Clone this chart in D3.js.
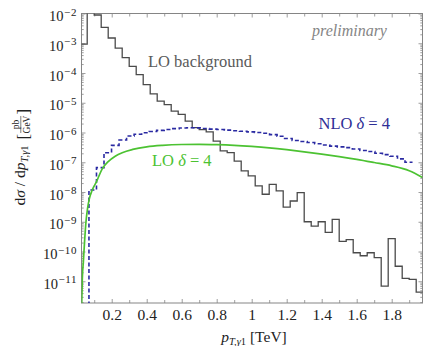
<!DOCTYPE html>
<html>
<head>
<meta charset="utf-8">
<script src="https://cdnjs.cloudflare.com/ajax/libs/d3/7.8.5/d3.min.js"></script>
<style>
  html, body { margin: 0; padding: 0; background: #fff; }
  svg { display: block; }
  svg text { font-family: "Liberation Serif", "DejaVu Serif", serif; }
</style>
</head>
<body>
<script>
// LO background histogram (bin edges in TeV, values in pb/GeV)
const bgEdges = [0.02, 0.06, 0.10, 0.14, 0.18, 0.22, 0.26, 0.30, 0.34, 0.38, 0.42, 0.46, 0.50,
  0.54, 0.58, 0.62, 0.66, 0.70, 0.74, 0.78, 0.82, 0.86, 0.90, 0.94, 0.98, 1.02, 1.06, 1.10,
  1.14, 1.18, 1.22, 1.26, 1.30, 1.34, 1.38, 1.42, 1.46, 1.50, 1.54, 1.58, 1.62, 1.66, 1.70,
  1.74, 1.78, 1.82, 1.86, 1.90, 1.94, 1.98];
const bgValues = [9.3e-4, 1.2e-2, 8.9e-3, 3.4e-3, 1.5e-3, 6.9e-4, 3.3e-4, 1.66e-4, 8.8e-5,
  4.1e-5, 2.0e-5, 1.13e-5, 8.7e-6, 5.2e-6, 4.1e-6, 2.4e-6, 1.45e-6, 1.25e-6, 1.05e-6, 5.1e-7,
  2.4e-7, 2.1e-7, 1.1e-7, 5.1e-8, 3.5e-8, 1.6e-8, 8.4e-9, 1.8e-8, 1.1e-8, 3.1e-9, 5.0e-9,
  9.5e-9, 1.0e-9, 7.1e-10, 1.0e-9, 4.4e-10, 1.2e-9, 2.2e-10, 2.5e-10, 9.1e-11, 7.2e-11,
  9.1e-11, 6.2e-11, 6.9e-12, 2.7e-10, 3.2e-11, 1.26e-11, 1.15e-11, 4.3e-12];

// NLO delta = 4 signal histogram
const nloEdges = [0.070, 0.113, 0.156, 0.199, 0.242, 0.285, 0.328, 0.371, 0.414, 0.457, 0.500,
  0.543, 0.586, 0.629, 0.672, 0.715, 0.758, 0.801, 0.844, 0.887, 0.930, 0.973, 1.016, 1.059,
  1.102, 1.145, 1.188, 1.231, 1.274, 1.317, 1.360, 1.403, 1.446, 1.489, 1.532, 1.575, 1.618,
  1.661, 1.704, 1.747, 1.790, 1.833, 1.876, 1.919];
const nloValues = [1.17e-8, 6.6e-8, 2.1e-7, 3.7e-7, 5.6e-7, 7.6e-7, 8.7e-7, 9.8e-7, 1.08e-6,
  1.18e-6, 1.26e-6, 1.35e-6, 1.42e-6, 1.45e-6, 1.43e-6, 1.36e-6, 1.30e-6, 1.26e-6, 1.2e-6,
  1.15e-6, 1.1e-6, 1.05e-6, 1.0e-6, 9.5e-7, 8.5e-7, 7.5e-7, 6.3e-7, 5.4e-7, 5.0e-7, 4.6e-7,
  4.2e-7, 3.8e-7, 3.5e-7, 3.3e-7, 3.1e-7, 2.8e-7, 2.5e-7, 2.3e-7, 2.0e-7, 1.8e-7, 1.6e-7,
  1.3e-7, 1.0e-7];

// LO delta = 4 signal (smooth curve)
const loX = [0.0286, 0.032, 0.038, 0.045, 0.053, 0.062, 0.072, 0.087, 0.10, 0.114, 0.145, 0.18,
  0.22, 0.26, 0.32, 0.40, 0.49, 0.6, 0.7, 0.8, 0.9, 1.0, 1.1, 1.2, 1.3, 1.4, 1.5, 1.6, 1.7,
  1.8, 1.9, 1.976];
const loValues = [1.8e-12, 1.2e-11, 4.5e-11, 2.2e-10, 1.0e-9, 2.8e-9, 5.9e-9, 1.1e-8, 1.6e-8,
  2.3e-8, 5.9e-8, 1.05e-7, 1.6e-7, 2.1e-7, 2.7e-7, 3.3e-7, 3.7e-7, 3.95e-7, 4.0e-7, 3.9e-7,
  3.7e-7, 3.4e-7, 3.05e-7, 2.65e-7, 2.25e-7, 1.88e-7, 1.55e-7, 1.25e-7, 9.8e-8, 7.6e-8, 5.2e-8,
  3.1e-8];

const xTicks = [0.2, 0.4, 0.6, 0.8, 1.0, 1.2, 1.4, 1.6, 1.8];
const xMinorTicks = [0.1, 0.3, 0.5, 0.7, 0.9, 1.1, 1.3, 1.5, 1.7, 1.9];
const yDecades = [-2, -3, -4, -5, -6, -7, -8, -9, -10, -11];

const W = 424, H = 346;
const plotLeft = 81.5, plotRight = 422.5, plotTop = 13.5, plotBottom = 303;
const FONT = "'Liberation Serif', 'DejaVu Serif', serif";

const x = d3.scaleLinear().domain([0.0274, 1.976]).range([plotLeft, plotRight]);
const y = d3.scaleLog().domain([Math.pow(10, -11.73), 1e-2]).range([plotBottom, plotTop]);

const axisColor = "#858585";
const textColor = "#222";

const svg = d3.select("body").append("svg")
  .attr("width", W)
  .attr("height", H)
  .attr("font-family", FONT);

svg.append("defs").append("clipPath").attr("id", "plot-clip")
  .append("rect")
  .attr("x", plotLeft).attr("y", plotTop)
  .attr("width", plotRight - plotLeft).attr("height", plotBottom - plotTop);

// ticks on all four sides, pointing inward
const styleAxis = (g) => {
  g.attr("font-family", FONT);
  g.select(".domain").remove();
  g.selectAll(".tick line").attr("stroke", axisColor).attr("stroke-width", 0.8);
};

const yMajor = yDecades.map((k) => Math.pow(10, k));
const yMinor = [];
for (let k = -12; k <= -3; k++) {
  for (let m = 2; m <= 9; m++) {
    const v = m * Math.pow(10, k);
    if (v > y.domain()[0] && v < y.domain()[1]) yMinor.push(v);
  }
}

// bottom
svg.append("g").attr("transform", `translate(0,${plotBottom})`)
  .call(d3.axisBottom(x).tickValues(xMinorTicks).tickSize(-3).tickFormat(""))
  .call(styleAxis);
const gx = svg.append("g").attr("transform", `translate(0,${plotBottom})`)
  .call(d3.axisBottom(x).tickValues(xTicks).tickSize(-4)
    .tickFormat((d) => String(+d.toFixed(1))))
  .call(styleAxis);
gx.selectAll(".tick text")
  .attr("y", 17).attr("dy", null)
  .attr("font-size", 15.5)
  .attr("font-family", FONT)
  .attr("fill", textColor);

// top
svg.append("g").attr("transform", `translate(0,${plotTop})`)
  .call(d3.axisTop(x).tickValues(xMinorTicks).tickSize(-3).tickFormat(""))
  .call(styleAxis);
svg.append("g").attr("transform", `translate(0,${plotTop})`)
  .call(d3.axisTop(x).tickValues(xTicks).tickSize(-4).tickFormat(""))
  .call(styleAxis);

// left
svg.append("g").attr("transform", `translate(${plotLeft},0)`)
  .call(d3.axisLeft(y).tickValues(yMinor).tickSize(-2.2).tickFormat(""))
  .call(styleAxis);
const gy = svg.append("g").attr("transform", `translate(${plotLeft},0)`)
  .call(d3.axisLeft(y).tickValues(yMajor).tickSize(-4).tickFormat(""))
  .call(styleAxis);
gy.selectAll(".tick text").each(function (d) {
  const t = d3.select(this);
  t.text(null)
    .attr("x", -4.5).attr("y", 7).attr("dy", null)
    .attr("font-size", 14.5)
    .attr("font-family", FONT)
    .attr("fill", textColor);
  t.append("tspan").text("10");
  t.append("tspan")
    .attr("dy", -5.5)
    .attr("dx", 0.5)
    .attr("font-size", 11)
    .attr("letter-spacing", 0.6)
    .text("\u2212" + Math.round(-Math.log10(d)));
});

// right
svg.append("g").attr("transform", `translate(${plotRight},0)`)
  .call(d3.axisRight(y).tickValues(yMinor).tickSize(-2.2).tickFormat(""))
  .call(styleAxis);
svg.append("g").attr("transform", `translate(${plotRight},0)`)
  .call(d3.axisRight(y).tickValues(yMajor).tickSize(-4).tickFormat(""))
  .call(styleAxis);

// frame
svg.append("rect")
  .attr("x", plotLeft).attr("y", plotTop)
  .attr("width", plotRight - plotLeft).attr("height", plotBottom - plotTop)
  .attr("fill", "none")
  .attr("stroke", axisColor)
  .attr("stroke-width", 1);

const plot = svg.append("g").attr("clip-path", "url(#plot-clip)");

const stepLine = d3.line()
  .x((d) => x(d[0]))
  .y((d) => y(d[1]))
  .curve(d3.curveStepAfter);

const bgPoints = bgValues.map((v, i) => [bgEdges[i], v]);
bgPoints.push([bgEdges[bgEdges.length - 1], bgValues[bgValues.length - 1]]);

plot.append("path")
  .attr("d", stepLine(bgPoints))
  .attr("fill", "none")
  .attr("stroke", "#4a4a4a")
  .attr("stroke-width", 1.3);

const nloPoints = [[nloEdges[0], 1e-14]].concat(nloValues.map((v, i) => [nloEdges[i], v]));
nloPoints.push([nloEdges[nloEdges.length - 1], nloValues[nloValues.length - 1]]);

plot.append("path")
  .attr("d", stepLine(nloPoints))
  .attr("fill", "none")
  .attr("stroke", "#2a2aa2")
  .attr("stroke-width", 1.6)
  .attr("stroke-dasharray", "4,2.5");

const loLine = d3.line()
  .x((d, i) => x(loX[i]))
  .y((d) => y(d))
  .curve(d3.curveMonotoneX);

plot.append("path")
  .attr("d", loLine(loValues))
  .attr("fill", "none")
  .attr("stroke", "#4cc232")
  .attr("stroke-width", 1.7);

// curve labels
svg.append("text")
  .attr("x", 312).attr("y", 36)
  .attr("font-size", 16).attr("font-style", "italic")
  .attr("fill", "#858585")
  .text("preliminary");

svg.append("text")
  .attr("x", 148).attr("y", 67)
  .attr("font-size", 16.5)
  .attr("fill", "#5a5a5a")
  .text("LO background");

const nloLabel = svg.append("text")
  .attr("x", 318.5).attr("y", 129)
  .attr("font-size", 16.5)
  .attr("fill", "#2e2e96");
nloLabel.append("tspan").text("NLO ");
nloLabel.append("tspan").attr("font-style", "italic").text("δ");
nloLabel.append("tspan").text(" = 4");

const loLabel = svg.append("text")
  .attr("x", 152).attr("y", 166)
  .attr("font-size", 16.5)
  .attr("fill", "#4cc232");
loLabel.append("tspan").text("LO ");
loLabel.append("tspan").attr("font-style", "italic").text("δ");
loLabel.append("tspan").text(" = 4");

// x axis title
const xt = svg.append("text")
  .attr("x", 254).attr("y", 342)
  .attr("text-anchor", "middle")
  .attr("font-size", 15.5)
  .attr("fill", textColor);
xt.append("tspan").attr("font-style", "italic").text("p");
xt.append("tspan").attr("font-size", 10.5).attr("dy", 3).attr("font-style", "italic").text("T,γ");
xt.append("tspan").attr("font-size", 10.5).text("1");
xt.append("tspan").attr("dy", -3).text(" [TeV]");

// y axis title, rotated
const yt = svg.append("g").attr("fill", textColor);
const mainTitle = yt.append("text").attr("font-size", 15.5);
mainTitle.append("tspan").text("d");
mainTitle.append("tspan").attr("font-style", "italic").text("σ");
mainTitle.append("tspan").text(" / d");
mainTitle.append("tspan").attr("font-style", "italic").text("p");
mainTitle.append("tspan").attr("font-size", 10.5).attr("dy", 3).attr("font-style", "italic").text("T,γ");
mainTitle.append("tspan").attr("font-size", 10.5).text("1");
const mainLen = mainTitle.node().getComputedTextLength();

const lb = mainLen + 6;
yt.append("text").attr("x", lb).attr("y", 3.5).attr("font-size", 17).text("[");
const fracX = lb + 6.5;
const fracW = 17;
yt.append("line")
  .attr("x1", fracX).attr("x2", fracX + fracW)
  .attr("y1", -4.2).attr("y2", -4.2)
  .attr("stroke", textColor).attr("stroke-width", 0.6);
yt.append("text")
  .attr("x", fracX + fracW / 2).attr("y", -6.2)
  .attr("text-anchor", "middle").attr("font-size", 9.5)
  .text("pb");
yt.append("text")
  .attr("x", fracX + fracW / 2).attr("y", 4.6)
  .attr("text-anchor", "middle").attr("font-size", 9.5)
  .text("GeV");
const rb = fracX + fracW + 1.5;
yt.append("text").attr("x", rb).attr("y", 3.5).attr("font-size", 17).text("]");
const total = rb + 6;
yt.attr("transform", `translate(25,${157 + total / 2}) rotate(-90)`);
</script>
</body>
</html>
